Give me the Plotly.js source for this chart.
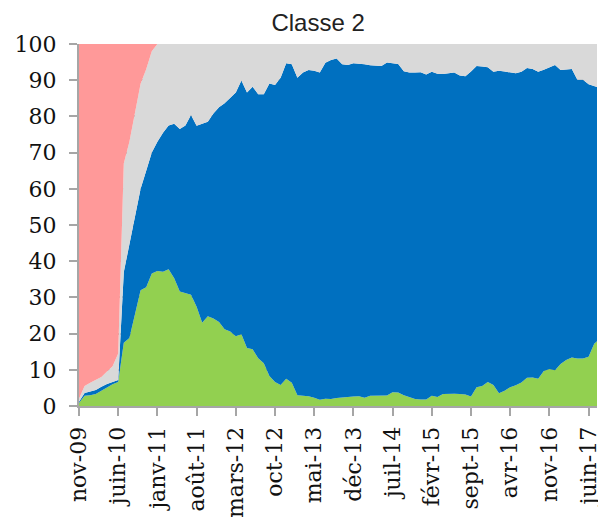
<!DOCTYPE html>
<html>
<head>
<meta charset="utf-8">
<script src="https://cdn.plot.ly/plotly-3.0.1.min.js"></script>
<style>html,body{margin:0;padding:0;background:#fff;}#chart{width:598px;height:517px;}</style>
</head>
<body>
<div id="chart"></div>
<script>
// Monthly shares (%), nov-09 .. août-17, stacked bottom to top
const green = [
  0.8,2.8,3.0,3.3,4.2,5.2,6.0,6.6,17.5,18.8,
  25,32,32.8,36.6,37.3,37.1,37.8,35.3,31.6,31.1,
  30.7,27.4,23,24.8,24.2,23.2,21.2,20.6,19.3,19.8,
  16,15.7,13.2,11.8,8.3,6.6,5.8,7.5,6.4,3.0,
  2.9,2.7,2.3,1.7,2.0,1.9,2.2,2.4,2.5,2.6,
  2.7,2.3,2.8,2.9,2.9,2.9,3.8,3.7,3.0,2.4,
  1.9,1.8,1.8,2.8,2.5,3.3,3.4,3.4,3.3,3.2,
  2.6,5.2,5.5,6.6,5.8,3.5,4.2,5.2,5.7,6.5,
  7.8,7.9,7.5,9.7,10.2,9.9,11.6,12.7,13.4,13.1,
  13.1,13.6,17.2,18.6
];
const blue = [
  0.4,0.8,1.0,1.1,1.1,0.9,0.6,0.6,19.5,26.2,
  27,28,32.2,33.4,35.7,38.4,39.7,42.7,44.9,46.4,
  49.7,50,55,53.7,56.6,59.3,62.4,64.4,67.3,70.1,
  70.6,72.5,72.9,74.3,80.8,82.1,84.9,87.2,88,87.7,
  89.2,90.1,90.3,90.4,92.8,93.7,93.8,92,91.7,92.1,
  91.9,92.1,91.3,91.1,91,92,90.9,90.8,89.5,89.7,
  90.2,90.4,89.8,89.5,89.3,88.4,88.5,88.7,88,87.9,
  89.8,88.7,88.3,87,86.5,89.1,88.2,87,86.2,85.8,
  85.6,85.2,84.8,83.2,83.4,84.3,81.2,80.3,79.7,77,
  77,75.3,71.3,69.3
];
const grey = [
  0.8,1.9,2.4,2.8,2.7,3.4,4.4,7.3,30,28,
  29,29,28,28,27,24.5,22.5,22,23.5,22.5,
  19.6,22.6,22,21.5,19.2,17.5,16.4,15,13.4,10.1,
  13.4,11.8,13.9,13.9,10.9,11.3,9.3,5.3,5.6,9.3,
  7.9,7.2,7.4,7.9,5.2,4.4,4,5.6,5.8,5.3,
  5.4,5.6,5.9,6,6.1,5.1,5.3,5.5,7.5,7.9,
  7.9,7.8,8.4,7.7,8.2,8.3,8.1,7.9,8.7,8.9,
  7.6,6.1,6.2,6.4,7.7,7.4,7.6,7.8,8.1,7.7,
  6.6,6.9,7.7,7.1,6.4,5.8,7.2,7,6.9,9.9,
  9.9,11.1,11.5,12.1
];
const pink = [
  98,94.5,93.6,92.8,92,90.5,89,85.5,33,27,
  19,11,7,2,0,0,0,0,0,0,
  0,0,0,0,0,0,0,0,0,0,
  0,0,0,0,0,0,0,0,0,0,
  0,0,0,0,0,0,0,0,0,0,
  0,0,0,0,0,0,0,0,0,0,
  0,0,0,0,0,0,0,0,0,0,
  0,0,0,0,0,0,0,0,0,0,
  0,0,0,0,0,0,0,0,0,0,
  0,0,0,0
];
const tickPositions = [0,7,14,21,28,35,42,49,56,63,70,77,84,91];
const tickLabels = ['nov-09','juin-10','janv-11','août-11','mars-12','oct-12','mai-13','déc-13','juil-14','févr-15','sept-15','avr-16','nov-16','juin-17'];
const yTicks = [0,10,20,30,40,50,60,70,80,90,100];

const x = green.map((_, i) => i);
function layer(y, color, name) {
  return {x: x, y: y, type: 'scatter', mode: 'lines', stackgroup: 'one',
    line: {width: 0, color: color}, fillcolor: color, name: name, hoverinfo: 'y'};
}
const data = [
  layer(green, '#92D050', 'vert'),
  layer(blue, '#0070C0', 'bleu'),
  layer(grey, '#D9D9D9', 'gris'),
  layer(pink, '#FF9999', 'rose')
];
const axisCol = '#A6A6A6';
const layout = {
  width: 598, height: 517,
  margin: {l: 79, r: 1, t: 44, b: 111},
  paper_bgcolor: '#fff', plot_bgcolor: '#fff',
  showlegend: false,
  title: {text: 'Classe 2', x: 0.532, xanchor: 'center', y: 0.957, yanchor: 'middle',
    font: {family: 'Liberation Sans, Arial, sans-serif', size: 24, color: '#222'}},
  xaxis: {range: [0, 92.5], tickmode: 'array', tickvals: tickPositions, ticktext: tickLabels,
    tickangle: -90, ticks: 'outside', ticklen: 8, tickwidth: 2, tickcolor: axisCol,
    ticklabeloverflow: 'allow', ticklabelstandoff: 2,
    showline: true, linecolor: axisCol, linewidth: 2, showgrid: false, zeroline: false,
    tickfont: {family: 'DejaVu Serif, serif', size: 22, color: '#111'}, fixedrange: true},
  yaxis: {range: [0, 100], tickmode: 'array', tickvals: yTicks,
    ticks: 'outside', ticklen: 8, tickwidth: 2, tickcolor: axisCol, ticklabelstandoff: 8,
    showline: true, linecolor: axisCol, linewidth: 2, showgrid: true, gridcolor: axisCol, gridwidth: 2,
    zeroline: false, tickfont: {family: 'DejaVu Serif, serif', size: 22, color: '#111'}, fixedrange: true}
};
Plotly.newPlot('chart', data, layout, {displayModeBar: false, staticPlot: true});
</script>
</body>
</html>
